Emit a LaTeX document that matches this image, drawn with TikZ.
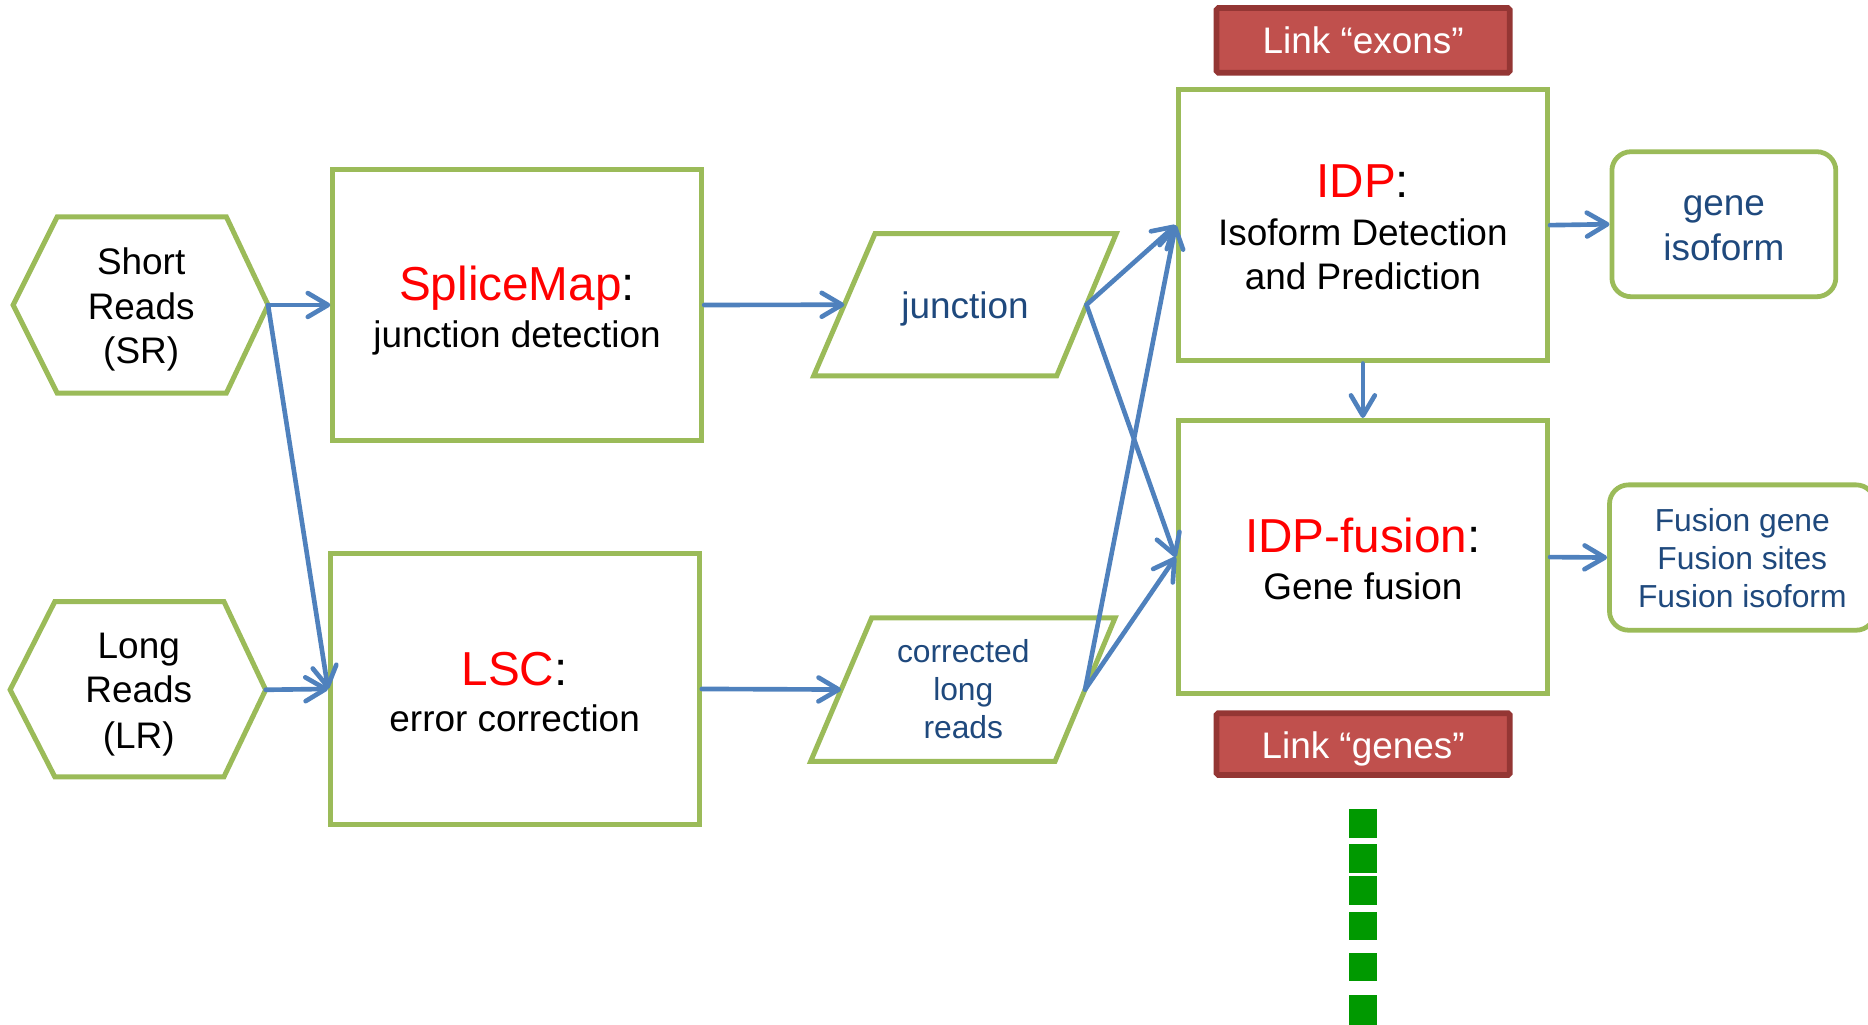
\documentclass[tikz,border=0pt]{standalone}
\usepackage{fontspec}
\setmainfont{Liberation Sans}
\usetikzlibrary{arrows.meta}

\definecolor{frame}{HTML}{9BBB59}
\definecolor{flow}{HTML}{4F81BD}
\definecolor{navy}{HTML}{1F497D}
\definecolor{linkfill}{HTML}{C0504D}
\definecolor{linkedge}{HTML}{943634}
\definecolor{dotgreen}{HTML}{009900}
\definecolor{hired}{HTML}{FF0000}

\tikzset{
  frameline/.style={draw=frame, line width=4.2pt, line join=miter},
  procbox/.style={frameline, fill=white, inner sep=0pt, minimum width=310pt, minimum height=228pt},
  outbox/.style={draw=frame, line width=4pt, rounded corners=16pt, fill=white, inner sep=0pt},
  linkbox/.style={draw=linkedge, line width=4.8pt, rounded corners=1.5pt, fill=linkfill, inner sep=0pt,
    minimum width=246pt, minimum height=54.4pt},
  flowarrow/.style={draw=flow, line width=3.9pt, line cap=round,
    -{Straight Barb[length=17pt, width=20pt, round]}},
  txt/.style={inner sep=0pt, anchor=base, font=\fontsize{31}{37}\selectfont},
  smalltxt/.style={inner sep=0pt, anchor=base, font=\fontsize{26.7}{32}\selectfont},
  titletxt/.style={inner sep=0pt, anchor=base, font=\fontsize{40}{46}\selectfont},
}

\begin{document}
\begin{tikzpicture}[x=1pt, y=-1pt]
\useasboundingbox (0,0) rectangle (1568,860);
\clip (0,0) rectangle (1568,860);

% ---- input hexagons ----
\coordinate (srW) at (11,256);
\coordinate (srE) at (225,256);
\draw[frameline] (srW) -- (48,182) -- (190,182) -- (srE) -- (190,330) -- (48,330) -- cycle;
\coordinate (lrW) at (8.5,579);
\coordinate (lrE) at (223,579);
\draw[frameline] (lrW) -- (46,505) -- (188,505) -- (lrE) -- (188,652) -- (46,652) -- cycle;

\node[txt] (sr1) at (118.5,230.6) {Short};
\node[txt] (sr2) at (118.5,267.8) {Reads};
\node[txt] (sr3) at (118.5,305.5) {(SR)};
\node[txt] (lr1) at (116.5,552.8) {Long};
\node[txt] (lr2) at (116.5,590) {Reads};
\node[txt] (lr3) at (116.5,628.3) {(LR)};

% ---- processing boxes ----
\node[procbox, minimum width=309.6pt] (splice) at (434.2,256) {};
\node[procbox, minimum width=309.5pt, minimum height=227.5pt] (lsc) at (432.2,578.3) {};
\node[procbox] (idp) at (1144,189) {};
\node[procbox, minimum height=229.3pt] (fusion) at (1144,467.6) {};

\node[titletxt] (spliceT) at (434,252.2) {\textcolor{hired}{SpliceMap}:};
\node[txt] (spliceS) at (434,291.5) {junction detection};
\node[titletxt] (lscT) at (432,575.4) {\textcolor{hired}{LSC}:};
\node[txt] (lscS) at (432,614.4) {error correction};
\node[titletxt] (idpT) at (1144,165.6) {\textcolor{hired}{IDP}:};
\node[txt] (idpS1) at (1144,205.7) {Isoform Detection};
\node[txt] (idpS2) at (1144,242.9) {and Prediction};
\node[titletxt] (fusionT) at (1144,463.4) {\textcolor{hired}{IDP-fusion}:};
\node[txt] (fusionS) at (1144,502.8) {Gene fusion};

% ---- intermediate data (parallelograms) ----
\coordinate (junW) at (708.7,255.8);
\coordinate (junE) at (912,255.8);
\draw[frameline] (734.5,196) -- (937,196) -- (887,315.5) -- (683,315.5) -- cycle;
\coordinate (corW) at (706,578.8);
\coordinate (corE) at (910.8,578.8);
\draw[frameline] (731.7,518.6) -- (936,518.6) -- (885.6,639) -- (680.5,639) -- cycle;

\node[txt, text=navy] (jun) at (810,267.4) {junction};
\node[smalltxt, text=navy] (cor1) at (808.6,556.5) {corrected};
\node[smalltxt, text=navy] (cor2) at (808.6,588.2) {long};
\node[smalltxt, text=navy] (cor3) at (808.6,620.2) {reads};

% ---- outputs ----
\node[outbox, minimum width=188pt, minimum height=121.7pt] (gene) at (1447,188.2) {};
\node[txt, text=navy] (gene1) at (1447,180.5) {gene};
\node[txt, text=navy] (gene2) at (1447,218.3) {isoform};
\node[outbox, minimum width=223pt, minimum height=122pt] (fout) at (1462.5,468) {};
\node[smalltxt, text=navy] (fout1) at (1462.5,446) {Fusion gene};
\node[smalltxt, text=navy] (fout2) at (1462.5,477.7) {Fusion sites};
\node[smalltxt, text=navy] (fout3) at (1462.5,510.1) {Fusion isoform};

% ---- link labels ----
\node[linkbox] (exons) at (1144.2,33.9) {};
\node[txt, text=white] (exonsT) at (1144.2,44.8) {Link “exons”};
\node[linkbox, minimum height=52pt] (genes) at (1144.2,624.6) {};
\node[txt, text=white] (genesT) at (1144.2,636.4) {Link “genes”};

% ---- dotted continuation below ----
\foreach \ya/\yb in {679.2/703.2, 708.5/732.6, 735.3/759.3, 765.6/789.4, 800.1/823.8, 835.1/866}
  \fill[dotgreen] (1132.3,\ya) rectangle (1155.9,\yb);

% ---- connectors ----
\draw[flowarrow] (srE) -- (splice.west);
\draw[flowarrow] (srE) -- (lsc.west);
\draw[flowarrow] (lrE) -- (lsc.west);
\draw[flowarrow] (splice.east) -- (junW);
\draw[flowarrow] (lsc.east) -- (corW);
\draw[flowarrow] (junE) -- (idp.west);
\draw[flowarrow] (junE) -- (fusion.west);
\draw[flowarrow] (corE) -- (idp.west);
\draw[flowarrow] (corE) -- (fusion.west);
\draw[flowarrow] (idp.east) -- (gene.west);
\draw[flowarrow] (idp.south) -- (fusion.north);
\draw[flowarrow] (fusion.east) -- (fout.west);
\end{tikzpicture}
\end{document}
